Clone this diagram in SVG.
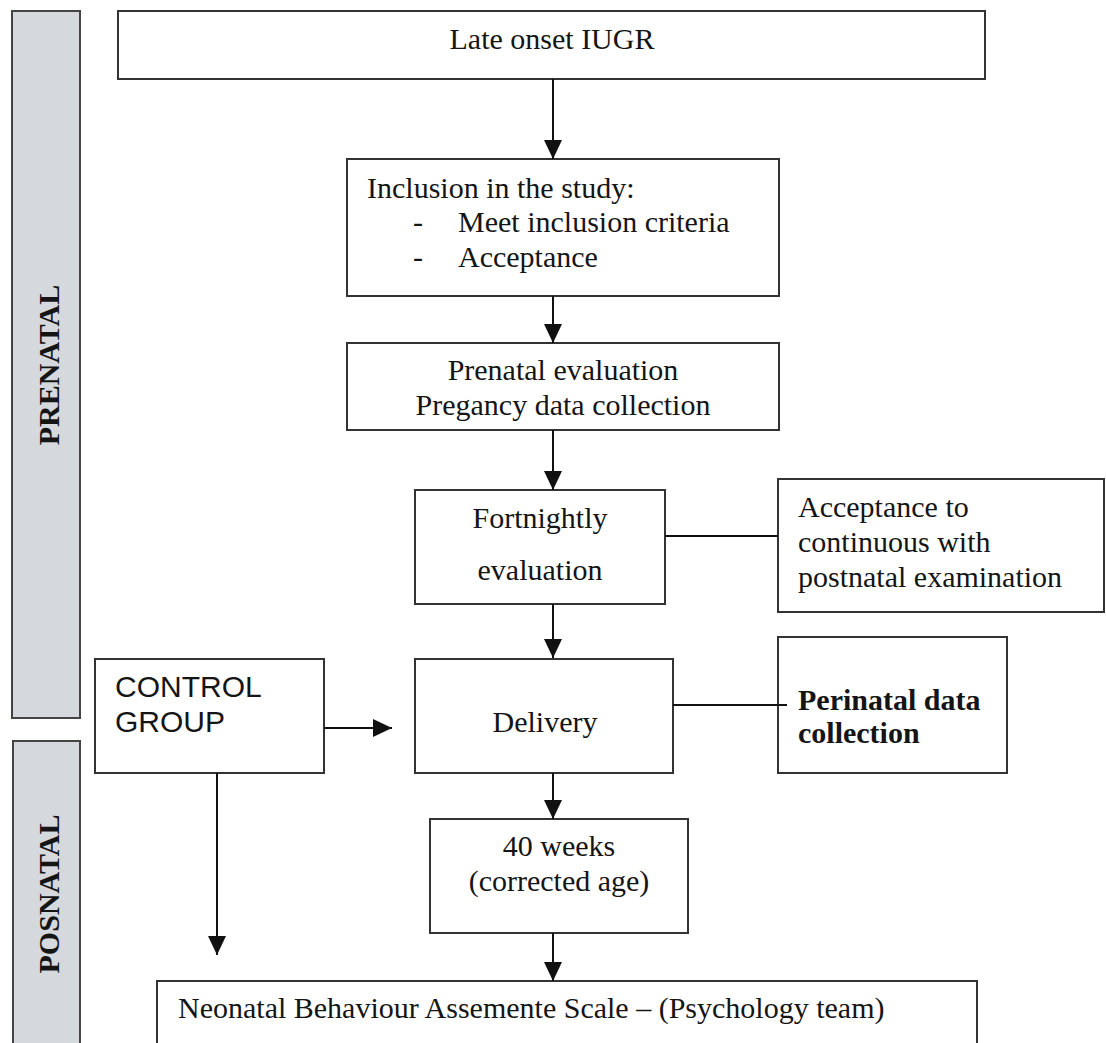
<svg xmlns="http://www.w3.org/2000/svg" width="1106" height="1043" viewBox="0 0 1106 1043">
<style>
.box{fill:#fff;stroke:#333;stroke-width:2}
.bar{fill:#d5d8dc;stroke:#444;stroke-width:2}
.t{font-family:"Liberation Serif","Times New Roman",serif;font-size:30px;fill:#151515}
.b{font-weight:bold}
.s{font-family:"Liberation Sans",Arial,sans-serif;font-size:30px;fill:#151515}
.c{text-anchor:middle}
.ln{stroke:#111;stroke-width:2;fill:none}
</style>
<defs>
<marker id="ah" viewBox="0 0 19 18" refX="19" refY="9" markerWidth="19" markerHeight="18" markerUnits="userSpaceOnUse" orient="auto">
<path d="M0,0 L19,9 L0,18 Z" fill="#111"/>
</marker>
</defs>
<g id="prenatal-bar">
<rect class="bar" x="12" y="11" width="68" height="707"/>
<text class="t b c" transform="translate(59,365) rotate(-90)">PRENATAL</text>
</g>
<g id="posnatal-bar">
<rect class="bar" x="13" y="741" width="67" height="320"/>
<text class="t b c" transform="translate(59,894) rotate(-90)">POSNATAL</text>
</g>
<g id="late-onset">
<rect class="box" x="118" y="11" width="867" height="68"/>
<text class="t c" x="552" y="49">Late onset IUGR</text>
</g>
<g id="inclusion">
<rect class="box" x="347" y="159" width="432" height="137"/>
<text class="t" x="367" y="198">Inclusion in the study:</text>
<text class="t" x="413" y="232">-</text>
<text class="t" x="458" y="232">Meet inclusion criteria</text>
<text class="t" x="413" y="267">-</text>
<text class="t" x="458" y="267">Acceptance</text>
</g>
<g id="prenatal-eval">
<rect class="box" x="347" y="343" width="432" height="87"/>
<text class="t c" x="563" y="380">Prenatal evaluation</text>
<text class="t c" x="563" y="415">Pregancy data collection</text>
</g>
<g id="fortnightly">
<rect class="box" x="415" y="490" width="250" height="114"/>
<text class="t c" x="540" y="528">Fortnightly</text>
<text class="t c" x="540" y="580">evaluation</text>
</g>
<g id="acceptance">
<rect class="box" x="778" y="479" width="326" height="133"/>
<text class="t" x="798" y="517">Acceptance to</text>
<text class="t" x="798" y="552">continuous with</text>
<text class="t" x="798" y="587">postnatal examination</text>
</g>
<g id="control">
<rect class="box" x="95" y="659" width="229" height="114"/>
<text class="s" x="115" y="697">CONTROL</text>
<text class="s" x="115" y="732">GROUP</text>
</g>
<g id="delivery">
<rect class="box" x="415" y="659" width="258" height="114"/>
<text class="t c" x="545" y="732">Delivery</text>
</g>
<g id="perinatal">
<rect class="box" x="778" y="637" width="229" height="136"/>
<text class="t b" x="798" y="710">Perinatal data</text>
<text class="t b" x="798" y="743">collection</text>
</g>
<g id="weeks40">
<rect class="box" x="430" y="819" width="258" height="114"/>
<text class="t c" x="559" y="856">40 weeks</text>
<text class="t c" x="559" y="891">(corrected age)</text>
</g>
<g id="nbas">
<rect class="box" x="157" y="981" width="820" height="80"/>
<text class="t" x="178" y="1018">Neonatal Behaviour Assemente Scale – (Psychology team)</text>
</g>
<g id="connectors">
<line class="ln" x1="553" y1="79" x2="553" y2="159" marker-end="url(#ah)"/>
<line class="ln" x1="553" y1="296" x2="553" y2="343" marker-end="url(#ah)"/>
<line class="ln" x1="553" y1="430" x2="553" y2="490" marker-end="url(#ah)"/>
<line class="ln" x1="553" y1="604" x2="553" y2="658" marker-end="url(#ah)"/>
<line class="ln" x1="553" y1="773" x2="553" y2="819" marker-end="url(#ah)"/>
<line class="ln" x1="553" y1="933" x2="553" y2="981" marker-end="url(#ah)"/>
<line class="ln" x1="665" y1="536" x2="778" y2="536"/>
<line class="ln" x1="673" y1="705" x2="787" y2="705"/>
<line class="ln" x1="324" y1="728" x2="392" y2="728" marker-end="url(#ah)"/>
<line class="ln" x1="217" y1="773" x2="217" y2="955" marker-end="url(#ah)"/>
</g>
</svg>
